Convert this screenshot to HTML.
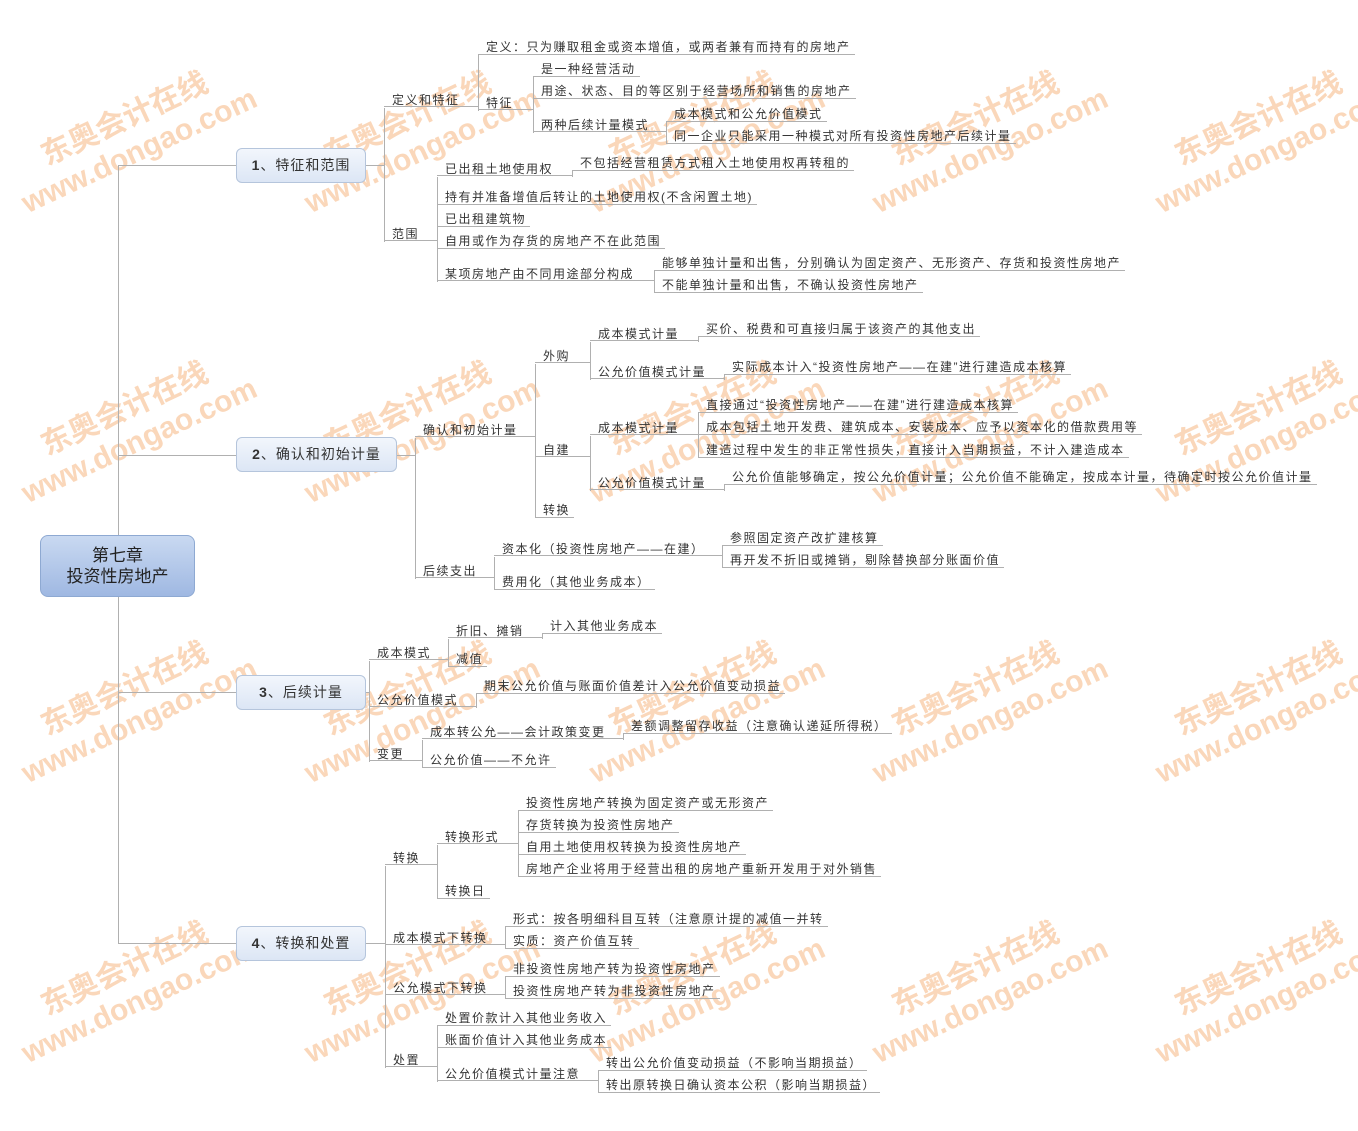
<!DOCTYPE html>
<html><head><meta charset="utf-8"><style>
body{margin:0;width:1358px;height:1131px;background:#fff;position:relative;overflow:hidden;font-family:"Liberation Sans","Noto Sans CJK SC",sans-serif}
.n{position:absolute;height:18px;line-height:22px;padding:0 4px 0 8px;border-bottom:1px solid #b0b0b0;white-space:nowrap;font-size:12px;letter-spacing:1.5px;color:#333;box-sizing:content-box;z-index:2}
.w{box-sizing:border-box}
.b{position:absolute;border-left:1px solid #b0b0b0;width:0;z-index:2}
.h{position:absolute;border-top:1px solid #b0b0b0;height:0;z-index:2}
.t{position:absolute;height:35px;box-sizing:border-box;border:1px solid #b5c5dc;border-radius:6px;background:linear-gradient(#f2f6fc,#dce6f5);font-size:14px;line-height:33px;text-align:center;color:#333;letter-spacing:1px;z-index:3}
.r{position:absolute;left:40px;top:535px;width:155px;height:62px;box-sizing:border-box;border:1px solid #8ea9d2;border-radius:8px;background:linear-gradient(#c9d9f1,#9fb8e2);font-size:17px;line-height:21px;text-align:center;padding-top:9px;color:#222;z-index:3}
.wm{position:absolute;width:270px;transform:rotate(-25deg);color:rgba(242,160,90,0.42);font-weight:bold;font-size:30px;line-height:35px;text-align:center;z-index:1;white-space:nowrap}
</style></head><body>
<div class="wm" style="left:-3px;top:100px">东奥会计在线<br>www.dongao.com</div>
<div class="wm" style="left:280px;top:100px">东奥会计在线<br>www.dongao.com</div>
<div class="wm" style="left:565px;top:100px">东奥会计在线<br>www.dongao.com</div>
<div class="wm" style="left:848px;top:100px">东奥会计在线<br>www.dongao.com</div>
<div class="wm" style="left:1131px;top:100px">东奥会计在线<br>www.dongao.com</div>
<div class="wm" style="left:-3px;top:390px">东奥会计在线<br>www.dongao.com</div>
<div class="wm" style="left:280px;top:390px">东奥会计在线<br>www.dongao.com</div>
<div class="wm" style="left:565px;top:390px">东奥会计在线<br>www.dongao.com</div>
<div class="wm" style="left:848px;top:390px">东奥会计在线<br>www.dongao.com</div>
<div class="wm" style="left:1131px;top:390px">东奥会计在线<br>www.dongao.com</div>
<div class="wm" style="left:-3px;top:670px">东奥会计在线<br>www.dongao.com</div>
<div class="wm" style="left:280px;top:670px">东奥会计在线<br>www.dongao.com</div>
<div class="wm" style="left:565px;top:670px">东奥会计在线<br>www.dongao.com</div>
<div class="wm" style="left:848px;top:670px">东奥会计在线<br>www.dongao.com</div>
<div class="wm" style="left:1131px;top:670px">东奥会计在线<br>www.dongao.com</div>
<div class="wm" style="left:-3px;top:950px">东奥会计在线<br>www.dongao.com</div>
<div class="wm" style="left:280px;top:950px">东奥会计在线<br>www.dongao.com</div>
<div class="wm" style="left:565px;top:950px">东奥会计在线<br>www.dongao.com</div>
<div class="wm" style="left:848px;top:950px">东奥会计在线<br>www.dongao.com</div>
<div class="wm" style="left:1131px;top:950px">东奥会计在线<br>www.dongao.com</div>

<div class="b" style="left:118px;top:165px;height:778px"></div>
<div class="h" style="left:118px;top:165px;width:118px"></div>
<div class="h" style="left:118px;top:455px;width:118px"></div>
<div class="h" style="left:118px;top:692px;width:118px"></div>
<div class="h" style="left:118px;top:943px;width:118px"></div>
<div class="r">第七章<br>投资性房地产</div>
<div class="t" style="left:236px;top:148px;width:130px"><b>1</b>、特征和范围</div>
<div class="t" style="left:236px;top:437px;width:161px"><b>2</b>、确认和初始计量</div>
<div class="t" style="left:236px;top:675px;width:130px"><b>3</b>、后续计量</div>
<div class="t" style="left:236px;top:926px;width:130px"><b>4</b>、转换和处置</div>
<div class="h" style="left:366px;top:165px;width:18px"></div>
<div class="h" style="left:397px;top:455px;width:18px"></div>
<div class="h" style="left:366px;top:692px;width:3px"></div>
<div class="h" style="left:366px;top:943px;width:19px"></div>

<div class="b" style="left:384px;top:108px;height:134px"></div>
<div class="n w" style="left:384px;top:89px;width:94px">定义和特征</div>
<div class="n w" style="left:384px;top:223px;width:53px">范围</div>
<div class="b" style="left:478px;top:55px;height:56px"></div>
<div class="n" style="left:478px;top:36px">定义：只为赚取租金或资本增值，或两者兼有而持有的房地产</div>
<div class="n w" style="left:478px;top:92px;width:55px">特征</div>
<div class="b" style="left:533px;top:77px;height:56px"></div>
<div class="n" style="left:533px;top:58px">是一种经营活动</div>
<div class="n" style="left:533px;top:80px">用途、状态、目的等区别于经营场所和销售的房地产</div>
<div class="n w" style="left:533px;top:114px;width:133px">两种后续计量模式</div>
<div class="b" style="left:666px;top:122px;height:22px"></div>
<div class="n" style="left:666px;top:103px">成本模式和公允价值模式</div>
<div class="n" style="left:666px;top:125px">同一企业只能采用一种模式对所有投资性房地产后续计量</div>
<div class="b" style="left:437px;top:177px;height:105px"></div>
<div class="n w" style="left:437px;top:158px;width:135px">已出租土地使用权</div>
<div class="b" style="left:572px;top:171px;height:6px"></div>
<div class="n" style="left:572px;top:152px">不包括经营租赁方式租入土地使用权再转租的</div>
<div class="n" style="left:437px;top:186px">持有并准备增值后转让的土地使用权(不含闲置土地)</div>
<div class="n" style="left:437px;top:208px">已出租建筑物</div>
<div class="n" style="left:437px;top:230px">自用或作为存货的房地产不在此范围</div>
<div class="n w" style="left:437px;top:263px;width:217px">某项房地产由不同用途部分构成</div>
<div class="b" style="left:654px;top:271px;height:22px"></div>
<div class="n" style="left:654px;top:252px">能够单独计量和出售，分别确认为固定资产、无形资产、存货和投资性房地产</div>
<div class="n" style="left:654px;top:274px">不能单独计量和出售，不确认投资性房地产</div>

<div class="b" style="left:415px;top:438px;height:141px"></div>
<div class="n w" style="left:415px;top:419px;width:120px">确认和初始计量</div>
<div class="n w" style="left:415px;top:560px;width:79px">后续支出</div>
<div class="b" style="left:535px;top:364px;height:154px"></div>
<div class="n w" style="left:535px;top:345px;width:55px">外购</div>
<div class="n w" style="left:535px;top:439px;width:55px">自建</div>
<div class="n" style="left:535px;top:499px">转换</div>
<div class="b" style="left:590px;top:342px;height:38px"></div>
<div class="n w" style="left:590px;top:323px;width:108px">成本模式计量</div>
<div class="n w" style="left:590px;top:361px;width:134px">公允价值模式计量</div>
<div class="b" style="left:698px;top:337px;height:5px"></div>
<div class="n" style="left:698px;top:318px">买价、税费和可直接归属于该资产的其他支出</div>
<div class="b" style="left:724px;top:375px;height:5px"></div>
<div class="n" style="left:724px;top:356px">实际成本计入“投资性房地产——在建”进行建造成本核算</div>
<div class="b" style="left:590px;top:436px;height:55px"></div>
<div class="n w" style="left:590px;top:417px;width:108px">成本模式计量</div>
<div class="n w" style="left:590px;top:472px;width:134px">公允价值模式计量</div>
<div class="b" style="left:698px;top:413px;height:45px"></div>
<div class="n" style="left:698px;top:394px">直接通过“投资性房地产——在建”进行建造成本核算</div>
<div class="n" style="left:698px;top:416px">成本包括土地开发费、建筑成本、安装成本、应予以资本化的借款费用等</div>
<div class="n" style="left:698px;top:439px">建造过程中发生的非正常性损失，直接计入当期损益，不计入建造成本</div>
<div class="b" style="left:724px;top:485px;height:6px"></div>
<div class="n" style="left:724px;top:466px">公允价值能够确定，按公允价值计量；公允价值不能确定，按成本计量，待确定时按公允价值计量</div>
<div class="b" style="left:494px;top:557px;height:33px"></div>
<div class="n w" style="left:494px;top:538px;width:228px">资本化（投资性房地产——在建）</div>
<div class="n" style="left:494px;top:571px">费用化（其他业务成本）</div>
<div class="b" style="left:722px;top:546px;height:22px"></div>
<div class="n" style="left:722px;top:527px">参照固定资产改扩建核算</div>
<div class="n" style="left:722px;top:549px">再开发不折旧或摊销，剔除替换部分账面价值</div>

<div class="b" style="left:369px;top:661px;height:101px"></div>
<div class="n w" style="left:369px;top:642px;width:79px">成本模式</div>
<div class="n w" style="left:369px;top:689px;width:107px">公允价值模式</div>
<div class="n w" style="left:369px;top:743px;width:53px">变更</div>
<div class="b" style="left:448px;top:639px;height:28px"></div>
<div class="n w" style="left:448px;top:620px;width:94px">折旧、摊销</div>
<div class="n" style="left:448px;top:648px">减值</div>
<div class="b" style="left:542px;top:634px;height:5px"></div>
<div class="n" style="left:542px;top:615px">计入其他业务成本</div>
<div class="b" style="left:476px;top:694px;height:14px"></div>
<div class="n" style="left:476px;top:675px">期末公允价值与账面价值差计入公允价值变动损益</div>
<div class="b" style="left:422px;top:740px;height:28px"></div>
<div class="n w" style="left:422px;top:721px;width:201px">成本转公允——会计政策变更</div>
<div class="n" style="left:422px;top:749px">公允价值——不允许</div>
<div class="b" style="left:623px;top:734px;height:6px"></div>
<div class="n" style="left:623px;top:715px">差额调整留存收益（注意确认递延所得税）</div>

<div class="b" style="left:385px;top:866px;height:202px"></div>
<div class="n w" style="left:385px;top:847px;width:52px">转换</div>
<div class="n w" style="left:385px;top:927px;width:120px">成本模式下转换</div>
<div class="n w" style="left:385px;top:977px;width:120px">公允模式下转换</div>
<div class="n w" style="left:385px;top:1049px;width:52px">处置</div>
<div class="b" style="left:437px;top:845px;height:54px"></div>
<div class="n w" style="left:437px;top:826px;width:81px">转换形式</div>
<div class="n" style="left:437px;top:880px">转换日</div>
<div class="b" style="left:518px;top:811px;height:66px"></div>
<div class="n" style="left:518px;top:792px">投资性房地产转换为固定资产或无形资产</div>
<div class="n" style="left:518px;top:814px">存货转换为投资性房地产</div>
<div class="n" style="left:518px;top:836px">自用土地使用权转换为投资性房地产</div>
<div class="n" style="left:518px;top:858px">房地产企业将用于经营出租的房地产重新开发用于对外销售</div>
<div class="b" style="left:505px;top:927px;height:22px"></div>
<div class="n" style="left:505px;top:908px">形式：按各明细科目互转（注意原计提的减值一并转</div>
<div class="n" style="left:505px;top:930px">实质：资产价值互转</div>
<div class="b" style="left:505px;top:977px;height:22px"></div>
<div class="n" style="left:505px;top:958px">非投资性房地产转为投资性房地产</div>
<div class="n" style="left:505px;top:980px">投资性房地产转为非投资性房地产</div>
<div class="b" style="left:437px;top:1026px;height:56px"></div>
<div class="n" style="left:437px;top:1007px">处置价款计入其他业务收入</div>
<div class="n" style="left:437px;top:1029px">账面价值计入其他业务成本</div>
<div class="n w" style="left:437px;top:1063px;width:161px">公允价值模式计量注意</div>
<div class="b" style="left:598px;top:1071px;height:22px"></div>
<div class="n" style="left:598px;top:1052px">转出公允价值变动损益（不影响当期损益）</div>
<div class="n" style="left:598px;top:1074px">转出原转换日确认资本公积（影响当期损益）</div>
</body></html>
